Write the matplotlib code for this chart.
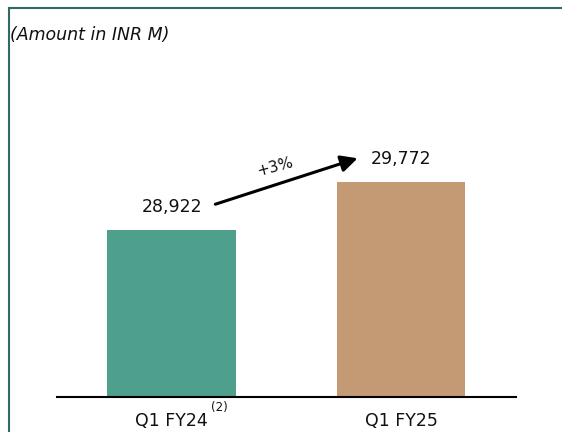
import matplotlib
matplotlib.use('Agg')
import matplotlib.pyplot as plt
from matplotlib.lines import Line2D

periods = ['Q1 FY24', 'Q1 FY25']
footnotes = ['(2)', '']
amounts = [28922, 29772]
growth_label = '+3%'
bar_colors = ['#4e9f8c', '#c49a74']

plt.rcParams['font.family'] = ['DejaVu Sans']

fig = plt.figure(figsize=(5.62, 4.32), dpi=100)
ax = fig.add_axes([0.1014, 0.081, 0.8167, 0.826])

x = list(range(len(periods)))
ax.bar(x, amounts, width=0.56, color=bar_colors, zorder=2)
ax.set_xlim(-0.5, 1.5)
ax.set_ylim(25965, 32290)

for xi, v in zip(x, amounts):
    ax.annotate(f'{v:,}', xy=(xi, v), xytext=(0, 17), textcoords='offset points',
                ha='center', va='center', fontsize=12.5, color='#111111')

# growth arrow between the two labels
ax.annotate('', xy=(x[1] - 0.19, amounts[1] + 425), xytext=(x[0] + 0.19, amounts[0] + 460),
            arrowprops=dict(arrowstyle='-|>,head_length=1.0,head_width=0.5', lw=2.2, color='black',
                            shrinkA=0, shrinkB=0))
ax.text(0.45, (amounts[0] + amounts[1]) / 2 + 700, growth_label, ha='center', va='center',
        rotation=15, fontsize=11, color='#111111')

for s in ['top', 'right', 'left']:
    ax.spines[s].set_visible(False)
ax.spines['bottom'].set_linewidth(1.5)
ax.set_yticks([])
ax.set_xticks(x)
ax.set_xticklabels(periods, fontsize=12.5, color='#111111')
ax.tick_params(axis='x', length=0, pad=11)

# superscript footnote on first label
ax.annotate(footnotes[0], xy=(x[0], 0), xycoords=('data', 'axes fraction'), xytext=(28, -7.5),
            textcoords='offset points', ha='left', va='center', fontsize=8.5, color='#111111')

fig.text(0.018, 0.918, '(Amount in INR M)', style='italic', fontsize=12.5, color='#111111',
         ha='left', va='center')

# panel border (top and left)
fig.add_artist(Line2D([9 / 562, 1], [1 - 8 / 432, 1 - 8 / 432], color='#2f6b66', lw=1.5,
                      transform=fig.transFigure))
fig.add_artist(Line2D([9 / 562, 9 / 562], [0, 1 - 8 / 432], color='#2f6b66', lw=1.5,
                      transform=fig.transFigure))

fig.savefig('out.png', dpi=100)
